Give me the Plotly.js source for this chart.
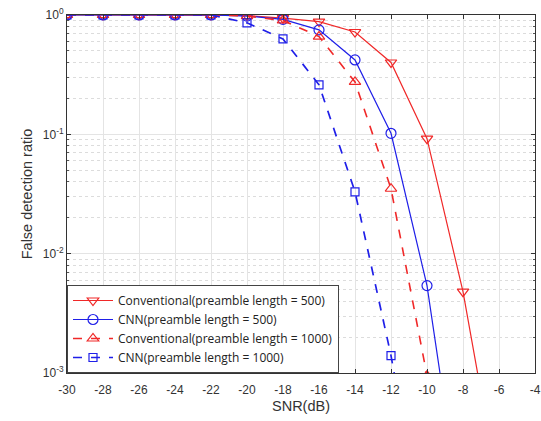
<!DOCTYPE html>
<html>
<head>
<meta charset="utf-8">
<script src="https://cdn.plot.ly/plotly-3.0.1.min.js"></script>
<style>html,body{margin:0;padding:0;background:#fff;}#chart{width:541px;height:421px;}</style>
</head>
<body>
<div id="chart"></div>
<script>
const snr = [-30, -28, -26, -24, -22, -20, -18, -16, -14, -12, -10, -8, -6];
const conv500 = [1, 1, 1, 1, 1, 0.99, 0.94, 0.88, 0.72, 0.40, 0.092, 0.0048, 0.0001];
const cnn500  = [1, 1, 1, 1, 1, 0.98, 0.92, 0.75, 0.42, 0.102, 0.0054, 0.00005, null];
const conv1000 = [1, 1, 1, 1, 1, 0.98, 0.90, 0.66, 0.275, 0.035, 0.00095, null, null];
const cnn1000 = [1, 1, 1, 1, 1, 0.86, 0.63, 0.26, 0.033, 0.0014, 0.00003, null, null];
const names = ['Conventional(preamble length = 500)', 'CNN(preamble length = 500)', 'Conventional(preamble length = 1000)', 'CNN(preamble length = 1000)'];
const xTickVals = [-30, -28, -26, -24, -22, -20, -18, -16, -14, -12, -10, -8, -6, -4];
const xTickText = ['-30', '-28', '-26', '-24', '-22', '-20', '-18', '-16', '-14', '-12', '-10', '-8', '-6', '-4'];
const yTickVals = [1, 0.1, 0.01, 0.001];
const yTickText = ['10<sup>0</sup>', '10<sup>-1</sup>', '10<sup>-2</sup>', '10<sup>-3</sup>'];
const yMinorVals = [0.002, 0.003, 0.004, 0.005, 0.006, 0.007, 0.008, 0.009,
                    0.02, 0.03, 0.04, 0.05, 0.06, 0.07, 0.08, 0.09,
                    0.2, 0.3, 0.4, 0.5, 0.6, 0.7, 0.8, 0.9];

const red = '#f02828';
const blue = '#1f1fe8';
const traces = [
  {x: snr, y: conv500, name: names[0], mode: 'lines+markers', line: {color: red, width: 1.2},
   marker: {symbol: 'triangle-down-open', size: 10, color: red, line: {width: 1.2}}},
  {x: snr, y: cnn500, name: names[1], mode: 'lines+markers', line: {color: blue, width: 1.2},
   marker: {symbol: 'circle-open', size: 10, color: blue, line: {width: 1.2}}},
  {x: snr, y: conv1000, name: names[2], mode: 'lines+markers', line: {color: red, width: 1.6, dash: 'dash'},
   marker: {symbol: 'triangle-up-open', size: 10, color: red, line: {width: 1.2}}},
  {x: snr, y: cnn1000, name: names[3], mode: 'lines+markers', line: {color: blue, width: 1.7, dash: 'dash'},
   marker: {symbol: 'square-open', size: 8, color: blue, line: {width: 1.2}}}
];

const layout = {
  width: 541, height: 421,
  margin: {l: 67, r: 6, t: 15, b: 48},
  paper_bgcolor: '#fff', plot_bgcolor: '#fff',
  font: {family: 'Liberation Sans, Arial, sans-serif', size: 12, color: '#333'},
  showlegend: true,
  legend: {x: 0, y: 0, xanchor: 'left', yanchor: 'bottom', bgcolor: '#fff',
           bordercolor: '#444', borderwidth: 1,
           font: {family: 'Open Sans, Liberation Sans, sans-serif', size: 12, color: '#222'},
           tracegroupgap: 0, itemwidth: 40},
  xaxis: {
    range: [-30, -4], tickvals: xTickVals, ticktext: xTickText,
    showgrid: true, gridcolor: '#e4e4e4', gridwidth: 1,
    showline: true, linecolor: '#333', linewidth: 1, mirror: 'allticks',
    ticks: 'inside', ticklen: 4, tickcolor: '#333',
    ticklabelstandoff: 6,
    zeroline: false,
    title: {text: 'SNR(dB)', font: {size: 14.5, color: '#333'}, standoff: 4},
    tickfont: {size: 12, color: '#333'}
  },
  yaxis: {
    type: 'log', range: [-3, 0], tickvals: yTickVals, ticktext: yTickText,
    showgrid: true, gridcolor: '#e4e4e4', gridwidth: 1,
    showline: true, linecolor: '#333', linewidth: 1, mirror: 'allticks',
    ticks: 'inside', ticklen: 4, tickcolor: '#333',
    minor: {tickvals: yMinorVals, ticks: 'inside', ticklen: 2, tickcolor: '#555',
            showgrid: true, gridcolor: '#dcdcdc', griddash: 'dot', gridwidth: 1},
    zeroline: false,
    title: {text: 'False detection ratio', font: {size: 14.5, color: '#333'}, standoff: 6},
    tickfont: {size: 12, color: '#333'}
  }
};

Plotly.newPlot('chart', traces, layout, {displayModeBar: false, staticPlot: true});
</script>
</body>
</html>
